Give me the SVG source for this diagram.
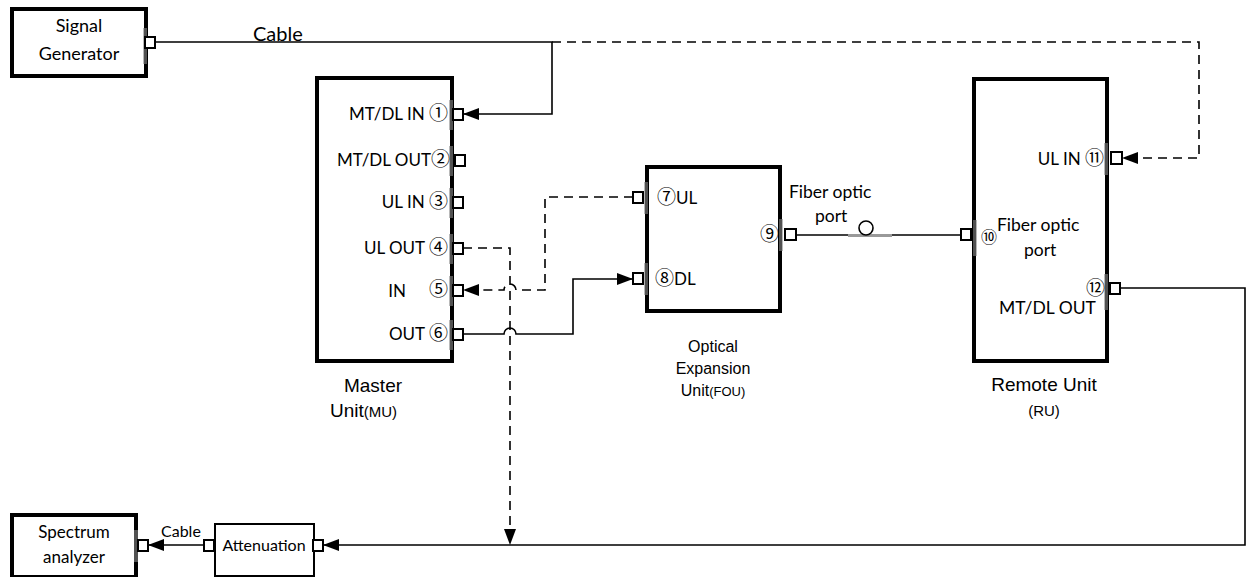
<svg xmlns="http://www.w3.org/2000/svg" width="1247" height="577" viewBox="0 0 1247 577">
<style>
.box{fill:#fff;stroke:#000;stroke-width:4}
.tbox{fill:#fff;stroke:#000;stroke-width:2}
.port{fill:#fff;stroke:#000;stroke-width:2}
.bar{fill:#888;opacity:0.6}
.w{fill:none;stroke:#000;stroke-width:1.6}
.d{fill:none;stroke:#000;stroke-width:1.6;stroke-dasharray:9 6}
.lb{font-family:Lato,"Liberation Sans","DejaVu Sans",sans-serif;font-size:17px;fill:#000}
.c{font-family:"Noto Sans CJK SC","DejaVu Sans",sans-serif;font-size:19px}
.cap{font-family:"Liberation Sans",Arial,sans-serif;font-size:19px;fill:#000}
.cap2{font-family:"Liberation Sans",Arial,sans-serif;font-size:16px;fill:#000}
</style>
<defs>
<marker id="ah" viewBox="0 0 16 12" refX="16" refY="6" markerWidth="16" markerHeight="12" markerUnits="userSpaceOnUse" orient="auto">
<path d="M0,0 L16,6 L0,12 Z" fill="#000"/>
</marker>
</defs>
<rect width="1247" height="577" fill="#fff"/>
<g id="connectors">
<path class="w" d="M155,42 H552 V114 H463" marker-end="url(#ah)"/>
<path class="d" d="M552,42 H1199 V158 H1122" marker-end="url(#ah)"/>
<path class="d" d="M463,248 H510 V545" marker-end="url(#ah)"/>
<path class="d" d="M633,197 H545 V290 H516 A6,6 0 0 0 504,290 H463" marker-end="url(#ah)"/>
<path class="w" d="M463,334 H504 A6,6 0 0 1 516,334 H573 V279 H633" marker-end="url(#ah)"/>
<path class="w" d="M797,235 H961"/>
<path class="w" d="M1120,288 H1245 V545 H323" marker-end="url(#ah)"/>
<path class="w" d="M203,545 H148" marker-end="url(#ah)"/>
<rect x="848" y="234" width="44" height="3" fill="#999"/>
<circle cx="866" cy="228" r="7" fill="#fff" stroke="#000" stroke-width="1.6"/>
<text class="lb" x="253" y="41" style="font-size:20px">Cable</text>
<text class="lb" x="161" y="537" style="font-size:16px">Cable</text>
<text class="lb" x="789" y="198" style="font-size:17.5px">Fiber optic</text>
<text class="lb" x="815" y="222" style="font-size:17.5px">port</text>
</g>
<g id="signal-generator">
<rect class="box" x="12" y="9" width="134" height="67"/>
<rect class="bar" x="143" y="28" width="4" height="36"/>
<rect class="port" x="145" y="37" width="10" height="11"/>
<text class="lb" x="79" y="32" text-anchor="middle" style="font-size:18px">Signal</text>
<text class="lb" x="79" y="60" text-anchor="middle" style="font-size:18px">Generator</text>
</g>
<g id="master-unit">
<rect class="box" x="317" y="78" width="135" height="283"/>
<rect class="bar" x="449" y="100" width="4" height="30"/>
<rect class="bar" x="449" y="146" width="4" height="30"/>
<rect class="bar" x="449" y="188" width="4" height="30"/>
<rect class="bar" x="449" y="234" width="4" height="30"/>
<rect class="bar" x="449" y="276" width="4" height="30"/>
<rect class="bar" x="449" y="320" width="4" height="30"/>
<rect class="port" x="453" y="109" width="10" height="11"/>
<rect class="port" x="455" y="155" width="10" height="11"/>
<rect class="port" x="453" y="197" width="10" height="11"/>
<rect class="port" x="453" y="243" width="10" height="11"/>
<rect class="port" x="453" y="285" width="10" height="11"/>
<rect class="port" x="453" y="329" width="10" height="11"/>
<text class="lb" x="448" y="120" text-anchor="end">MT/DL IN <tspan class="c">①</tspan></text>
<text class="lb" x="450" y="166" text-anchor="end">MT/DL OUT<tspan class="c">②</tspan></text>
<text class="lb" x="448" y="208" text-anchor="end">UL IN <tspan class="c">③</tspan></text>
<text class="lb" x="448" y="254" text-anchor="end">UL OUT <tspan class="c">④</tspan></text>
<text class="lb" x="397" y="297" text-anchor="middle">IN</text>
<text class="lb" x="448" y="296" text-anchor="end"><tspan class="c">⑤</tspan></text>
<text class="lb" x="448" y="340" text-anchor="end">OUT  <tspan class="c">⑥</tspan></text>
<text class="cap" x="373" y="392" text-anchor="middle">Master</text>
<text class="cap" x="330" y="417">Unit<tspan style="font-size:15px">(MU)</tspan></text>
</g>
<g id="optical-expansion-unit">
<rect class="box" x="647" y="167" width="133" height="144"/>
<rect class="bar" x="644" y="182" width="4" height="32"/>
<rect class="bar" x="644" y="263" width="4" height="32"/>
<rect class="bar" x="779" y="219" width="4" height="32"/>
<rect class="port" x="633" y="192" width="10" height="11"/>
<rect class="port" x="633" y="273" width="10" height="11"/>
<rect class="port" x="785" y="229" width="11" height="11"/>
<text class="lb" x="657" y="204"><tspan class="c">⑦</tspan>UL</text>
<text class="lb" x="655" y="285"><tspan class="c">⑧</tspan>DL</text>
<text class="lb" x="779" y="241" text-anchor="end"><tspan class="c">⑨</tspan></text>
<text class="cap2" x="713" y="352" text-anchor="middle">Optical</text>
<text class="cap2" x="713" y="374" text-anchor="middle">Expansion</text>
<text class="cap2" x="713" y="396" text-anchor="middle">Unit<tspan style="font-size:13px">(FOU)</tspan></text>
</g>
<g id="remote-unit">
<rect class="box" x="974" y="79" width="133" height="282"/>
<rect class="bar" x="1104" y="143" width="4" height="32"/>
<rect class="bar" x="973" y="220" width="4" height="36"/>
<rect class="bar" x="1104" y="274" width="4" height="36"/>
<rect class="port" x="1111" y="152" width="11" height="12"/>
<rect class="port" x="961" y="229" width="10" height="11"/>
<rect class="port" x="1110" y="283" width="10" height="11"/>
<text class="lb" x="1104" y="165" text-anchor="end">UL IN <tspan class="c">⑪</tspan></text>
<text class="lb" x="981" y="243"><tspan class="c" style="font-size:16px">⑩</tspan></text>
<text class="lb" x="997" y="231" style="font-size:17.5px">Fiber optic</text>
<text class="lb" x="1024" y="256" style="font-size:17.5px">port</text>
<text class="lb" x="1105" y="295" text-anchor="end"><tspan class="c">⑫</tspan></text>
<text class="lb" x="999" y="314" style="font-size:17.5px">MT/DL OUT</text>
<text class="cap" x="1044" y="391" text-anchor="middle">Remote Unit</text>
<text class="cap2" x="1044" y="416" text-anchor="middle" style="font-size:15px">(RU)</text>
</g>
<g id="spectrum-analyzer">
<rect class="box" x="12" y="515" width="124" height="62"/>
<rect class="bar" x="134" y="530" width="4" height="32"/>
<rect class="port" x="138" y="540" width="10" height="11"/>
<text class="lb" x="74" y="538" text-anchor="middle" style="font-size:17px">Spectrum</text>
<text class="lb" x="74" y="563" text-anchor="middle" style="font-size:17px">analyzer</text>
</g>
<g id="attenuation">
<rect class="tbox" x="215" y="524" width="99" height="52"/>
<rect class="port" x="204" y="540" width="10" height="11"/>
<rect class="port" x="313" y="540" width="10" height="11"/>
<text class="lb" x="264" y="551" text-anchor="middle" style="font-size:16px">Attenuation</text>
</g>
</svg>
